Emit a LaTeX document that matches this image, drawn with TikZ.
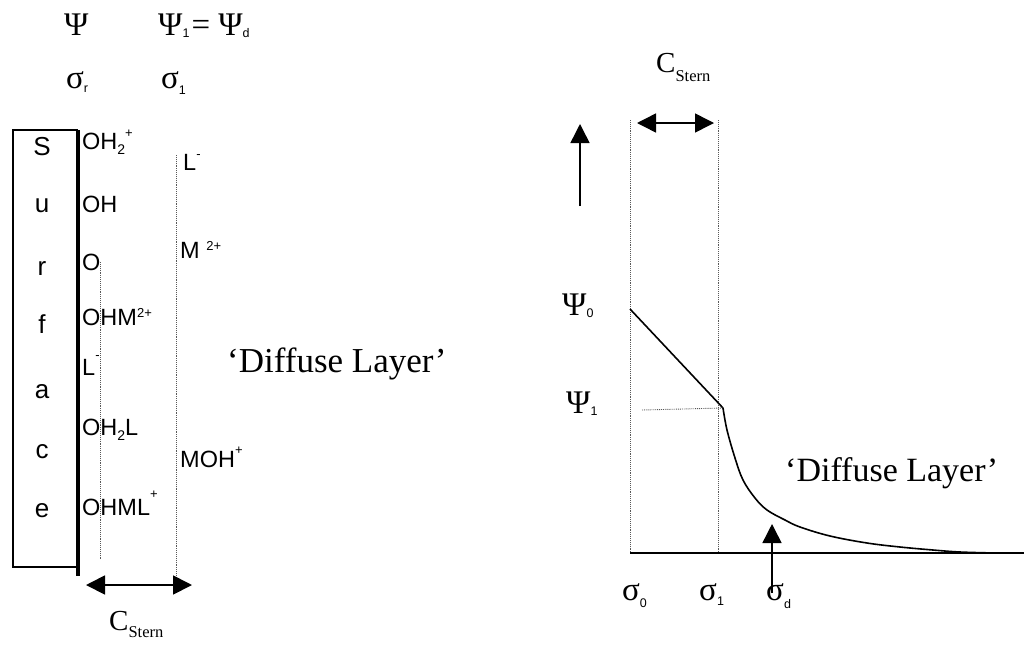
\documentclass[tikz,border=0pt]{standalone}
\usepackage{fontspec}
\setmainfont{Liberation Serif}
\newfontfamily\arf{Liberation Sans}
\usetikzlibrary{arrows.meta}
% chem sub/superscripts: [raise]{text}
\newcommand\lsb[1]{\raisebox{-5pt}{\fontsize{14}{14}\selectfont #1}}
\newcommand\lsp[2][9pt]{\raisebox{#1}{\fontsize{13}{13}\selectfont #2}}
% greek subscripts
\newcommand\gsb[2][4pt]{\raisebox{-#1}{\arf\fontsize{12.5}{12.5}\selectfont #2}}
\newcommand\stn[2][9pt]{\raisebox{-#1}{\fontsize{16.5}{16.5}\selectfont #2}}
\tikzset{
  greek/.style={font=\fontsize{33}{33}\selectfont, inner sep=0pt, anchor=base west},
  chem/.style={font=\arf\fontsize{23.5}{23.5}\selectfont, inner sep=0pt, anchor=base west},
  letter/.style={font=\arf\fontsize{26}{26}\selectfont, inner sep=0pt, anchor=base},
  serif/.style={font=\fontsize{35}{35}\selectfont, inner sep=0pt, anchor=base west},
  cst/.style={font=\fontsize{29}{29}\selectfont, inner sep=0pt, anchor=base west},
  dots/.style={densely dotted, line width=0.9pt, black!65},
  bigtip/.style={-{Triangle[length=19pt,width=19pt]}},
  bothtip/.style={{Triangle[length=19pt,width=19pt]}-{Triangle[length=19pt,width=19pt]}},
}
\begin{document}
\begin{tikzpicture}[x=1pt,y=-1pt]
\useasboundingbox (0,0) rectangle (1024,646);
% ---------- left panel ----------
\node[greek] (psi) at (64,35) {Ψ};
\node[greek] (psi1) at (158,35) {Ψ\gsb[2pt]{1}\hspace{2pt}= Ψ\gsb[2pt]{d}};
\node[greek] (sr) at (66,88) {σ\gsb{r}};
\node[greek] (s1) at (161,88) {σ\gsb[6pt]{1}};
% surface box
\coordinate (bTL) at (13,130);
\coordinate (bTR) at (78,130);
\coordinate (bBL) at (13,567);
\coordinate (bBR) at (78,567);
\coordinate (bEnd) at (78,576);
\draw[line width=1.8pt] (bTR) -- (bTL) -- (bBL) -- (bBR);
\draw[line width=3.2pt] (bTR) -- (bEnd);
\foreach \l/\y [count=\i] in {S/155,u/212,r/275,f/333,a/398,c/458,e/517}
  \node[letter] (let\i) at (42,\y) {\l};
% dotted lines
\coordinate (dlT) at (100,262);
\coordinate (dlB) at (100,560);
\coordinate (drT) at (176,155);
\coordinate (drB) at (176,577);
\draw[dots] (dlT) -- (dlB);
\draw[dots] (drT) -- (drB);
% surface groups
\node[chem] (c1) at (82,149) {OH\lsb{2}\lsp[12pt]{+}};
\node[chem] (c2) at (82,212) {OH};
\node[chem] (c3) at (82,270) {O};
\node[chem] (c4) at (82,325) {OHM\lsp[8pt]{2+}};
\node[chem] (c5) at (82,375) {L\lsp[16pt]{-}};
\node[chem] (c6) at (82,435) {OH\lsb{2}L};
\node[chem] (c7) at (82,515) {OHML\lsp[17pt]{+}};
% ions
\node[chem] (i1) at (183,170) {L\lsp[12pt]{-}};
\node[chem] (i2) at (180,258) {M \lsp[8pt]{2+}};
\node[chem] (i3) at (180,467) {MOH\lsp[13pt]{+}};
\node[serif] (dl1) at (227,372) {‘Diffuse Layer’};
% C stern arrow
\coordinate (aL) at (86,585);
\coordinate (aR) at (192,585);
\draw[bothtip, line width=1.8pt] (aL) -- (aR);
\node[cst] (cs1) at (109,630) {C\stn[7pt]{Stern}};
% ---------- right panel ----------
\node[cst] (cs2) at (656,72) {C\stn{Stern}};
\coordinate (vL1) at (630,120);
\coordinate (vL2) at (630,553);
\coordinate (vR1) at (718,120);
\coordinate (vR2) at (718,553);
\draw[dots] (vL1) -- (vL2);
\draw[dots] (vR1) -- (vR2);
\coordinate (dA) at (637,123);
\coordinate (dB) at (714,123);
\draw[bothtip, line width=1.5pt] (dA) -- (dB);
\coordinate (upA) at (580,206);
\coordinate (upB) at (580,124);
\draw[bigtip, line width=1.5pt] (upA) -- (upB);
\node[greek] (p0) at (562,315) {Ψ\gsb[2pt]{0}};
\node[greek] (p1) at (566,413) {Ψ\gsb[2pt]{1}};
\coordinate (l0) at (630,309);
\coordinate (l1) at (723,408);
\coordinate (h0) at (642,410);
\draw[line width=1.6pt] (l0) -- (l1);
\draw[dots] (h0) -- (l1);
\draw[line width=1.6pt] plot[smooth, tension=0.6] coordinates {(723,408) (727,430) (735,458) (743,480) (755,498) (767,510) (785,520) (800,527) (830,536) (867,543) (900,547) (933,550) (960,552) (995,553)};
\coordinate (ax0) at (630,553);
\coordinate (ax1) at (1024,553);
\draw[line width=1.6pt] (ax0) -- (ax1);
\coordinate (sdA) at (772,593);
\coordinate (sdB) at (772,524);
\draw[bigtip, line width=1.5pt] (sdA) -- (sdB);
\node[greek] (s0r) at (622,600) {σ\gsb[7pt]{0}};
\node[greek] (s1r) at (699,600) {σ\gsb[5pt]{1}};
\node[greek] (sdr) at (766,600) {σ\gsb[8pt]{d}};
\node[serif, font=\fontsize{34}{34}\selectfont] (dl2) at (785,481) {‘Diffuse Layer’};
\end{tikzpicture}
\end{document}
